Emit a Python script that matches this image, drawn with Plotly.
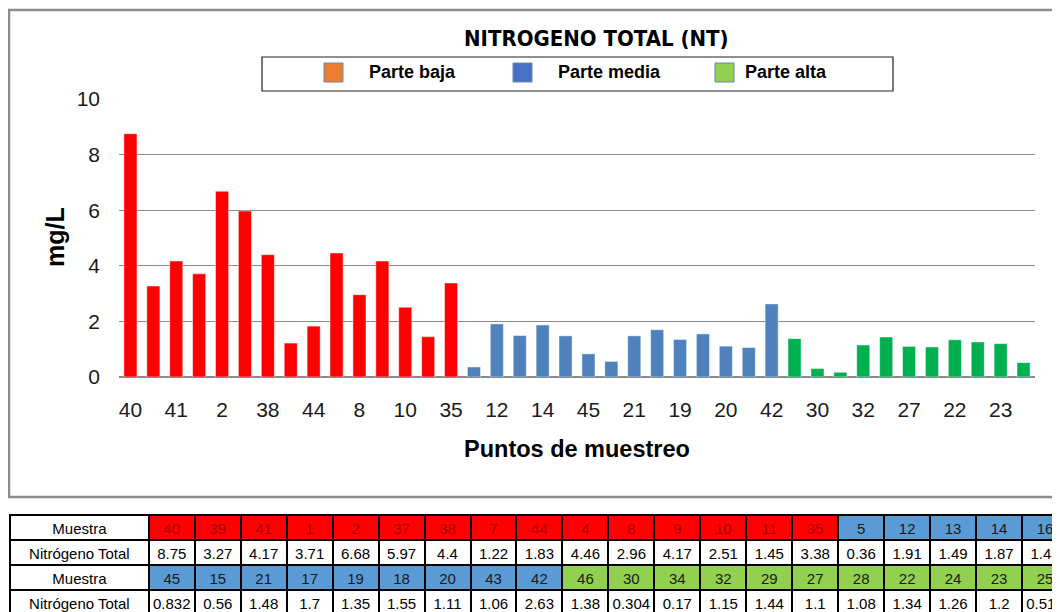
import plotly.graph_objects as go

W, H = 1060, 612
OFF = 8  # page body margin: the figure is drawn 8px right and down of the window corner

samples = ["40", "39", "41", "1", "2", "37", "38", "7", "44", "4", "8", "9", "10", "11", "35",
           "5", "12", "13", "14", "16", "45", "15", "21", "17", "19", "18", "20", "43", "42",
           "46", "30", "34", "32", "29", "27", "28", "22", "24", "23", "25"]
values = [8.75, 3.27, 4.17, 3.71, 6.68, 5.97, 4.4, 1.22, 1.83, 4.46, 2.96, 4.17, 2.51, 1.45, 3.38,
          0.36, 1.91, 1.49, 1.87, 1.48, 0.832, 0.56, 1.48, 1.7, 1.35, 1.55, 1.11, 1.06, 2.63,
          1.38, 0.304, 0.17, 1.15, 1.44, 1.1, 1.08, 1.34, 1.26, 1.2, 0.518]
zones = ["Parte baja"] * 15 + ["Parte media"] * 14 + ["Parte alta"] * 11
zone_names = ["Parte baja", "Parte media", "Parte alta"]
bar_colors = {"Parte baja": "#FF0000", "Parte media": "#4F81BD", "Parte alta": "#00B050"}
legend_colors = {"Parte baja": "#ED7D31", "Parte media": "#4472C4", "Parte alta": "#92D050"}
cell_colors = {"Parte baja": "#FF0000", "Parte media": "#5B9BD5", "Parte alta": "#92D050"}
cell_text_colors = {"Parte baja": "#A50000", "Parte media": "#1a1a1a", "Parte alta": "#1a1a1a"}
yticks = [0, 2, 4, 6, 8, 10]

title = "NITROGENO TOTAL (NT)"
ytitle = "mg/L"
xtitle = "Puntos de muestreo"
row_label_sample = "Muestra"
row_label_value = "Nitrógeno Total"

FONT = "Liberation Sans, Arial, sans-serif"


def px(x):
    return (x - OFF) / W


def py(y):
    return 1 - (y - OFF) / H


fig = go.Figure()

for z in zone_names:
    xs = [s for s, zz in zip(samples, zones) if zz == z]
    ys = [v for v, zz in zip(values, zones) if zz == z]
    fig.add_trace(go.Bar(
        x=xs, y=ys, name=z, showlegend=False,
        marker=dict(color=bar_colors[z], line=dict(color="rgba(255,255,255,0.45)", width=1)),
        xaxis="x", yaxis="y",
    ))

# ---- data table below the chart ----
half = len(samples) // 2
top_samples, bot_samples = samples[:half], samples[half:]
top_vals, bot_vals = values[:half], values[half:]
top_zones, bot_zones = zones[:half], zones[half:]

header_vals = [row_label_sample] + top_samples
header_fill = ["white"] + [cell_colors[z] for z in top_zones]
header_font = ["#000000"] + [cell_text_colors[z] for z in top_zones]

cell_vals = [[row_label_value, row_label_sample, row_label_value]]
cell_fill = [["white", "white", "white"]]
cell_font = [["#000000", "#000000", "#000000"]]
for i in range(half):
    cell_vals.append([str(top_vals[i]), bot_samples[i], str(bot_vals[i])])
    cell_fill.append(["white", cell_colors[bot_zones[i]], "white"])
    cell_font.append(["#000000", cell_text_colors[bot_zones[i]], "#000000"])

fig.add_trace(go.Table(
    domain=dict(x=[px(10), 1.0], y=[0, py(515)]),
    columnwidth=[138] + [45.7] * half,
    header=dict(values=header_vals, fill=dict(color=header_fill),
                font=dict(family=FONT, size=15, color=header_font),
                line=dict(color="black", width=2), align="center", height=25),
    cells=dict(values=cell_vals, fill=dict(color=cell_fill),
               font=dict(family=FONT, size=15, color=cell_font),
               line=dict(color="black", width=2), align="center", height=25),
))

shapes = []
# chart border
shapes.append(dict(type="rect", xref="paper", yref="paper", x0=px(9), x1=px(1075), y0=py(497), y1=py(10),
                   line=dict(color="#8C8C8C", width=2.5), fillcolor="rgba(0,0,0,0)", layer="below"))
# legend box
shapes.append(dict(type="rect", xref="paper", yref="paper", x0=px(262), x1=px(893), y0=py(91), y1=py(57),
                   line=dict(color="#222222", width=1.2), fillcolor="white"))
annotations = []
leg_items = [("Parte baja", 324, 367), ("Parte media", 513, 556), ("Parte alta", 715, 743)]
for name, sx, tx in leg_items:
    shapes.append(dict(type="rect", xref="paper", yref="paper", x0=px(sx), x1=px(sx + 19), y0=py(82), y1=py(63),
                       line=dict(color="#6F86A8", width=1), fillcolor=legend_colors[name]))
    annotations.append(dict(text=name, xref="paper", yref="paper", x=px(tx), y=py(72.5),
                            xanchor="left", yanchor="middle", showarrow=False,
                            font=dict(family=FONT, size=18, color="black", weight="bold")))

annotations.append(dict(text=title, xref="paper", yref="paper", x=px(596), y=py(38),
                        xanchor="center", yanchor="middle", showarrow=False,
                        font=dict(family="DejaVu Sans Condensed, Liberation Sans Narrow, sans-serif",
                                  size=22, color="black", weight="bold")))
annotations.append(dict(text=ytitle, xref="paper", yref="paper", x=px(55), y=py(237),
                        xanchor="center", yanchor="middle", showarrow=False, textangle=-90,
                        font=dict(family=FONT, size=25, color="black", weight="bold")))
annotations.append(dict(text=xtitle, xref="paper", yref="paper", x=px(577), y=py(449),
                        xanchor="center", yanchor="middle", showarrow=False,
                        font=dict(family=FONT, size=23.5, color="black", weight="bold")))

fig.update_layout(
    width=W, height=H,
    margin=dict(l=0, r=0, t=0, b=0, autoexpand=False),
    paper_bgcolor="white", plot_bgcolor="white",
    barmode="group", bargap=0.43,
    showlegend=False,
    shapes=shapes, annotations=annotations,
    xaxis=dict(domain=[px(119), px(1035)], anchor="y", type="category", automargin=False,
               categoryorder="array", categoryarray=samples,
               tickmode="array", tickvals=samples[::2], ticktext=samples[::2],
               showgrid=False, showline=False, zeroline=False, ticks="",
               ticklabelstandoff=18,
               tickfont=dict(family=FONT, size=21, color="#1a1a1a")),
    yaxis=dict(domain=[py(377), py(99)], anchor="x", range=[0, 10], automargin=False,
               tickmode="array", tickvals=yticks,
               showgrid=True, gridcolor="#8A8A8A", gridwidth=1,
               zeroline=True, zerolinecolor="#8A8A8A", zerolinewidth=1.5,
               showline=False, ticks="", ticklabelstandoff=18,
               tickfont=dict(family=FONT, size=21, color="#1a1a1a")),
)

fig.write_html("out.html")
